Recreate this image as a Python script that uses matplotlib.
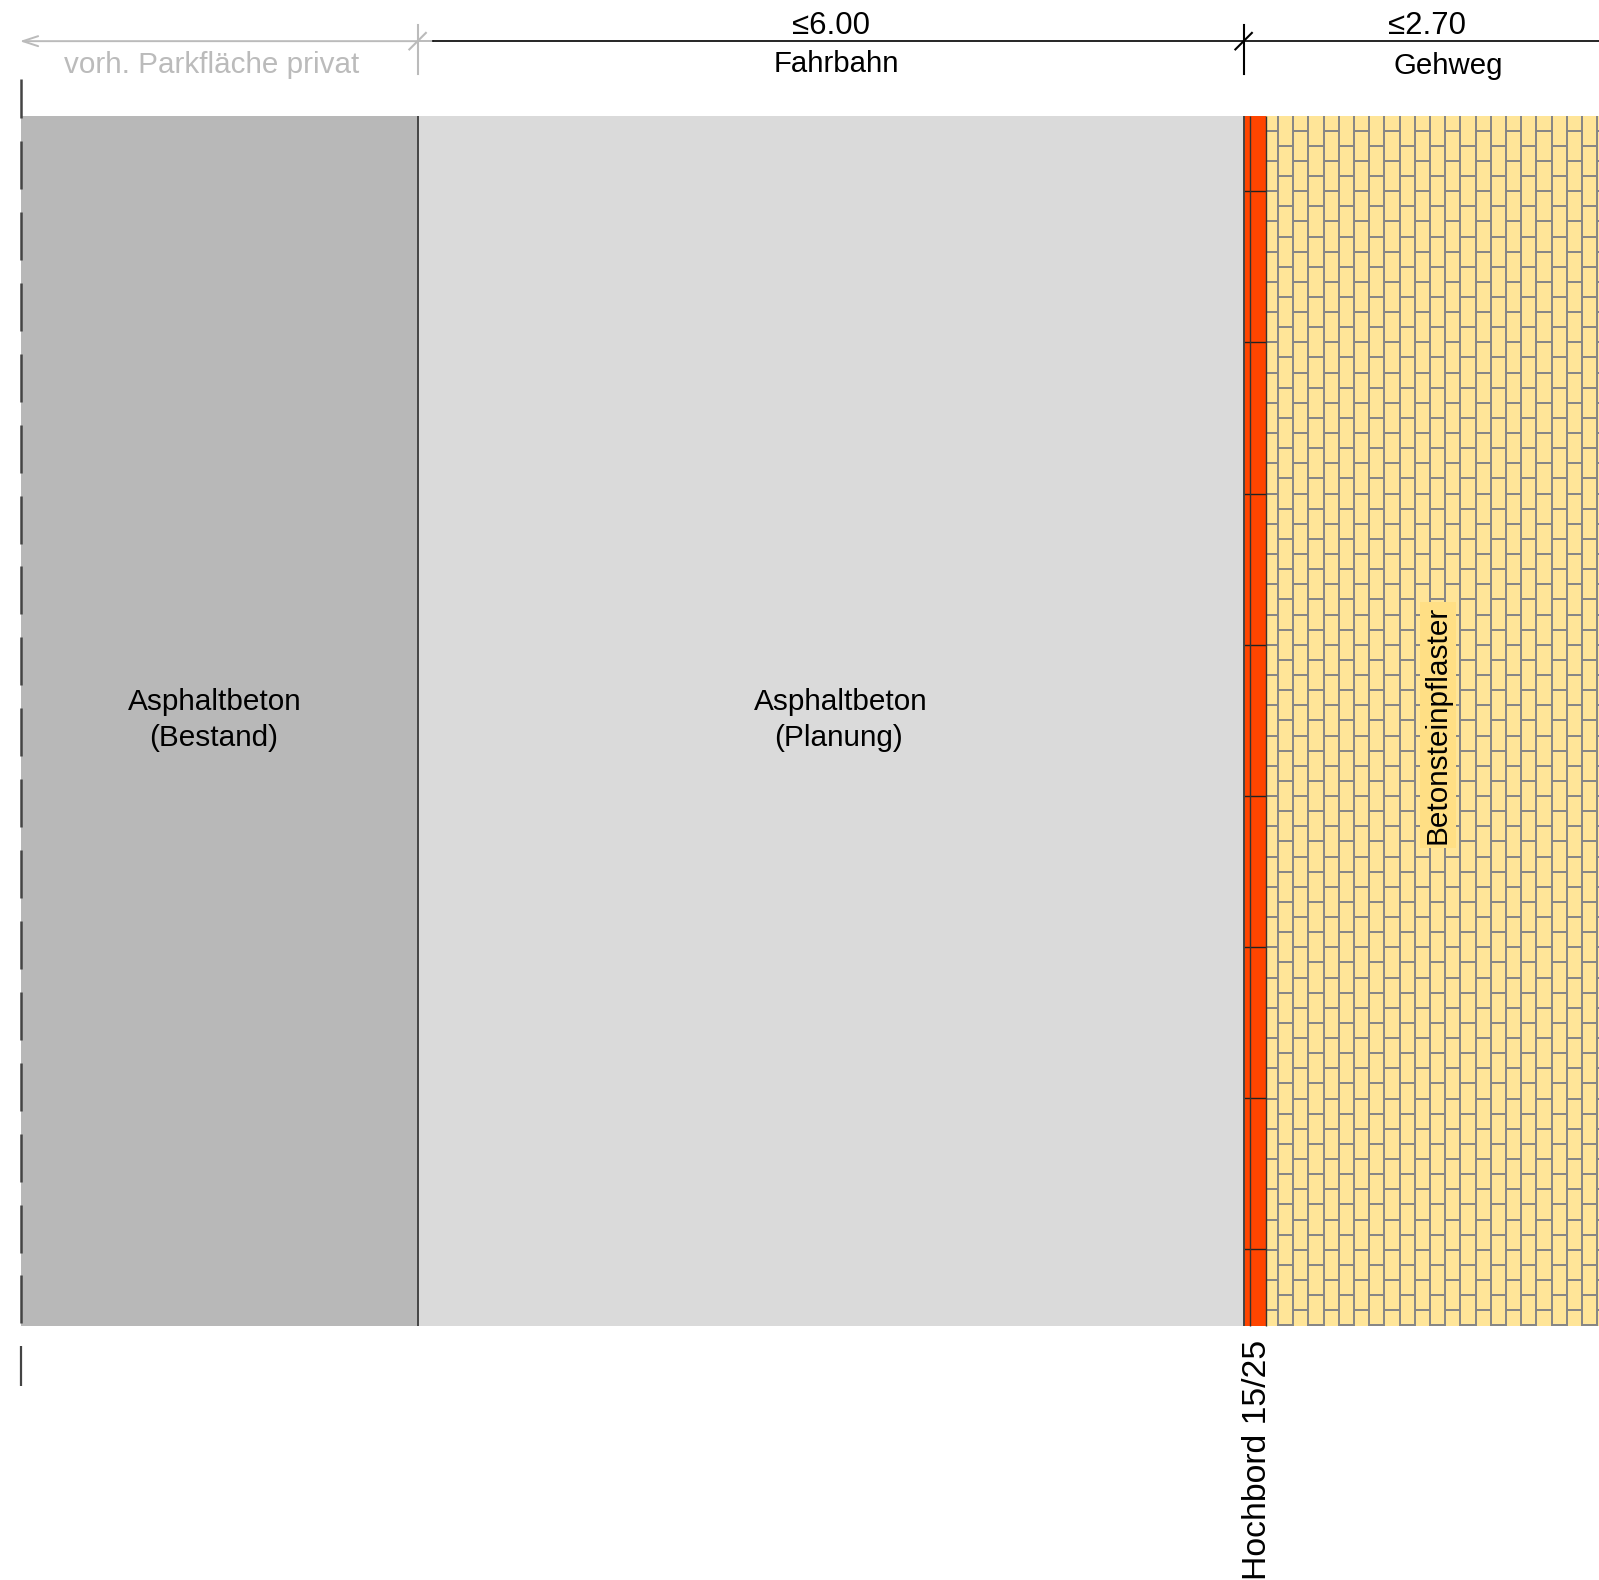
import numpy as np
import matplotlib
matplotlib.use('Agg')
import matplotlib.pyplot as plt

plt.rcParams['font.family'] = ['Liberation Sans', 'DejaVu Sans']

# everything in metres, 0/0 = left edge of the roadway at the top of the plan
scale = 137.67  # pixels per metre
origin_px = (417.6, 115.5)
fig_w_px, fig_h_px = 1599, 1580

edge_left = -2.88
edge_road = 0.0
edge_kerb = 6.0
edge_kerb_inner = 6.045
edge_paving = 6.165
edge_right = 8.7
plan_length = 8.795

dim_y = -0.54
dim_tick_top = -0.66
dim_tick_bottom = -0.30
kerb_first = 0.55
kerb_step = 1.098
brick_first_x = 6.25
brick_step_x = 0.1104
brick_first_y = 0.11
brick_step_y = 0.2197

col_existing = '#b8b8b8'
col_planned = '#dadada'
col_kerb = '#ff4500'
col_paving = '#ffe598'
col_joint = '#858585'
col_faded = '#bbbbbb'
col_line = '#444444'

fig = plt.figure(figsize=(fig_w_px / 100, fig_h_px / 100), dpi=100)
ax = fig.add_axes([0, 0, 1, 1])
ax.set_xlim(-origin_px[0] / scale, (fig_w_px - origin_px[0]) / scale)
ax.set_ylim((fig_h_px - origin_px[1]) / scale, -origin_px[1] / scale)
ax.axis('off')

# surfaces
ax.fill_between([edge_left, edge_road], 0, plan_length, color=col_existing, lw=0)
ax.fill_between([edge_road, edge_kerb], 0, plan_length, color=col_planned, lw=0)
ax.fill_between([edge_kerb, edge_paving], 0, plan_length, color=col_kerb, lw=0)
ax.fill_between([edge_paving, edge_right], 0, plan_length, color=col_paving, lw=0)

# paving joints, running bond
joints_x = np.arange(brick_first_x, edge_right, brick_step_x)
ax.vlines(joints_x, 0, plan_length, color=col_joint, lw=1.4)
col_edges = np.concatenate([[edge_paving], joints_x, [edge_right]])
for i in range(len(col_edges) - 1):
    start = brick_first_y + (i % 2) * brick_step_y / 2
    rows = np.arange(start, plan_length + 0.01, brick_step_y)
    ax.hlines(rows, col_edges[i], col_edges[i + 1], color=col_joint, lw=1.4)

# kerb
kerb_joints = np.arange(kerb_first, plan_length, kerb_step)
ax.hlines(kerb_joints, edge_kerb, edge_paving, color='#222222', lw=1)
ax.vlines([edge_kerb_inner], 0, plan_length, color='#333333', lw=1)
ax.vlines([edge_paving], 0, plan_length, color='#333333', lw=1)
ax.vlines([edge_road, edge_kerb], 0, plan_length, color=col_line, lw=1.4)

# dashed boundary on the left, it runs past the plan on both ends
dash_starts = np.arange(141, 1300, 70.9)
ax.vlines([edge_left] * len(dash_starts), (dash_starts - origin_px[1]) / scale,
          (dash_starts + 48 - origin_px[1]) / scale, color=col_line, lw=1.8)
ax.vlines([edge_left], -0.265, 0.02, color=col_line, lw=1.8)
ax.vlines([edge_left], 8.935, 9.23, color=col_line, lw=1.6)

# dimension lines
ax.plot([edge_road, edge_road + 0.115], [dim_y, dim_y], color=col_faded, lw=1.4)
ax.plot([edge_road + 0.115, 8.7], [dim_y, dim_y], color='black', lw=1.2)
ax.annotate('', xy=(edge_left - 0.01, dim_y), xytext=(edge_road, dim_y),
            arrowprops=dict(arrowstyle='->,head_length=0.55,head_width=0.18', mutation_scale=20,
                            color=col_faded, lw=1.4, shrinkA=0, shrinkB=0))
for x, c in [(edge_road, col_faded), (edge_kerb, 'black')]:
    ax.plot([x, x], [dim_tick_top, dim_tick_bottom], color=c, lw=1.5)
    ax.plot([x - 0.06, x + 0.06], [dim_y + 0.06, dim_y - 0.06], color=c, lw=1.5)

# labels, font sizes measured against the drawing
def label(x, y, s, size, **kw):
    ax.text((x - origin_px[0]) / scale, (y - origin_px[1]) / scale, s, fontsize=size,
            ha='center', va='center', **kw)

label(831, 26, '≤6.00', 22.4)
label(1427, 26, '≤2.70', 22.4)
label(836, 64, 'Fahrbahn', 21.2)
label(1448, 66, 'Gehweg', 21.2)
label(212, 65, 'vorh. Parkfläche privat', 21.3, color=col_faded)
label(215, 702, 'Asphaltbeton', 21.4)
label(214, 738, '(Bestand)', 21.4)
label(841, 702, 'Asphaltbeton', 21.4)
label(839, 738, '(Planung)', 21.4)
label(1257, 1460, 'Hochbord 15/25', 24.3, rotation=90)
label(1438, 725, 'Betonsteinpflaster', 21.4, rotation=90,
      bbox=dict(facecolor='#ffdf85', edgecolor='none', pad=2.5))

fig.savefig('out.png', dpi=100)
